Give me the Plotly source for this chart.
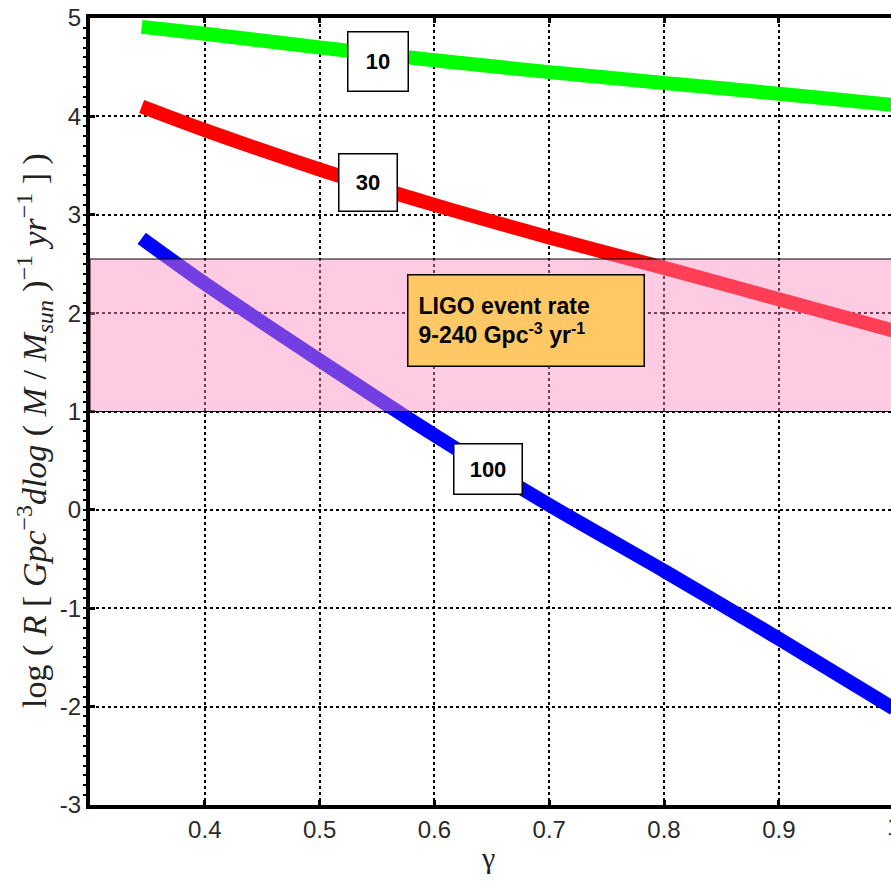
import plotly.graph_objects as go

# merger-rate curves vs. gamma for three mass bins (10, 30, 100 Msun)
gamma = [0.345, 0.4, 0.5, 0.6, 0.7, 0.8, 0.9, 1.0]
rate_10 = [4.91, 4.84, 4.70, 4.57, 4.45, 4.34, 4.23, 4.115]
rate_30 = [4.10, 3.86, 3.46, 3.10, 2.77, 2.46, 2.14, 1.82]
rate_100 = [2.76, 2.30, 1.52, 0.76, 0.05, -0.62, -1.31, -2.02]

# observed LIGO rate band (in log units of the y axis)
ligo_band = [1.0, 2.55]

x_ticks = [0.4, 0.5, 0.6, 0.7, 0.8, 0.9]
y_ticks = [-3, -2, -1, 0, 1, 2, 3, 4, 5]

curves = [
    (rate_10, "#00ff00", "10"),
    (rate_30, "#ff0000", "30"),
    (rate_100, "#0000ff", "100"),
]

fig = go.Figure()
for vals, color, name in curves:
    fig.add_trace(go.Scatter(
        x=gamma, y=vals, mode="lines", name=name,
        line=dict(color=color, width=14, shape="spline", smoothing=0.8),
        showlegend=False, hoverinfo="skip",
    ))

# translucent pink band drawn over the curves
fig.add_shape(type="rect", xref="paper", yref="y", x0=0, x1=1.01,
              y0=ligo_band[0], y1=ligo_band[1],
              fillcolor="rgba(255,140,190,0.45)",
              line=dict(color="black", width=1), layer="above")

TICK_FAMILY = "Liberation Sans, Arial, sans-serif"
TICK_SIZE = 24
TICK_COLOR = "#2a2a2a"

fig.update_layout(
    template="none",
    width=891, height=882,
    margin=dict(l=90, r=0, t=18, b=77, pad=0),
    plot_bgcolor="white", paper_bgcolor="white",
    font=dict(family=TICK_FAMILY, size=TICK_SIZE, color=TICK_COLOR),
    xaxis=dict(
        range=[0.3, 0.9977], tickmode="array", tickvals=x_ticks,
        ticktext=[f"{v:.1f}" for v in x_ticks],
        mirror="ticks", showline=True, linecolor="black", linewidth=4,
        showgrid=True, gridcolor="black", gridwidth=2, griddash="dot",
        zeroline=False, ticks="inside", ticklen=5, tickwidth=3, tickcolor="black",
        tickfont=dict(family=TICK_FAMILY, size=TICK_SIZE, color=TICK_COLOR),
    ),
    yaxis=dict(
        range=[-3, 5], tickmode="array", tickvals=y_ticks,
        ticktext=[str(v) for v in y_ticks],
        showline=True, linecolor="black", linewidth=4,
        showgrid=True, gridcolor="black", gridwidth=2, griddash="dot",
        zeroline=False, ticks="inside", ticklen=5, tickwidth=3, tickcolor="black",
        tickfont=dict(family=TICK_FAMILY, size=TICK_SIZE, color=TICK_COLOR),
        minor=dict(dtick=0.1, ticks="outside", ticklen=3,
                   tickwidth=1.5, tickcolor="black", showgrid=False),
    ),
)

label_font = dict(family="Liberation Sans, Arial, sans-serif", size=22, color="black")

def label_box(x, y, text, w, h):
    fig.add_annotation(x=x, y=y, xref="x", yref="y", text=f"<b>{text}</b>",
                       showarrow=False, font=label_font, bgcolor="white",
                       bordercolor="black", borderwidth=1.5, borderpad=0,
                       width=w, height=h, align="center", valign="middle")

label_box(0.5509, 4.553, "10", 59, 58)
label_box(0.5422, 3.323, "30", 57, 56)
label_box(0.6467, 0.417, "100", 67, 49)

fig.add_annotation(x=0.6798, y=1.921, xref="x", yref="y",
                   text="<b>LIGO event rate<br>9-240 Gpc<sup>-3</sup> yr<sup>-1</sup></b>",
                   showarrow=False, font=dict(family="Liberation Sans, Arial, sans-serif",
                                              size=23, color="black"),
                   bgcolor="#ffc864", bordercolor="black", borderwidth=1.5,
                   borderpad=10, width=215, height=70, align="left", valign="middle")

# axis titles
fig.add_annotation(
    xref="paper", yref="paper", x=-0.0687, y=0.4765, textangle=-90,
    xanchor="center", yanchor="middle", showarrow=False,
    text=("log ( <i>R</i> [ <i>Gpc</i><sup>−3</sup><i>dlog</i> ( <i>M</i> / "
          "<i>M</i><sub><i>sun</i></sub> )<sup>−1</sup> <i>yr</i><sup>−1</sup> ] )"),
    font=dict(family="Liberation Serif, Times New Roman, serif", size=34, color="#222"),
)
fig.add_annotation(
    xref="x", yref="paper", x=0.6467, y=-0.0673, showarrow=False,
    xanchor="center", yanchor="middle", text="γ",
    font=dict(family="Liberation Serif, Times New Roman, serif", size=30, color="#222"),
)
# tick label for gamma = 1, sitting on the right edge
fig.add_annotation(
    xref="paper", yref="paper", x=(1.0 - 0.3) / (0.9977 - 0.3), y=-0.0267,
    showarrow=False, xanchor="center", yanchor="middle", text="1",
    font=dict(family=TICK_FAMILY, size=TICK_SIZE, color=TICK_COLOR),
)

fig.write_html("out.html")
